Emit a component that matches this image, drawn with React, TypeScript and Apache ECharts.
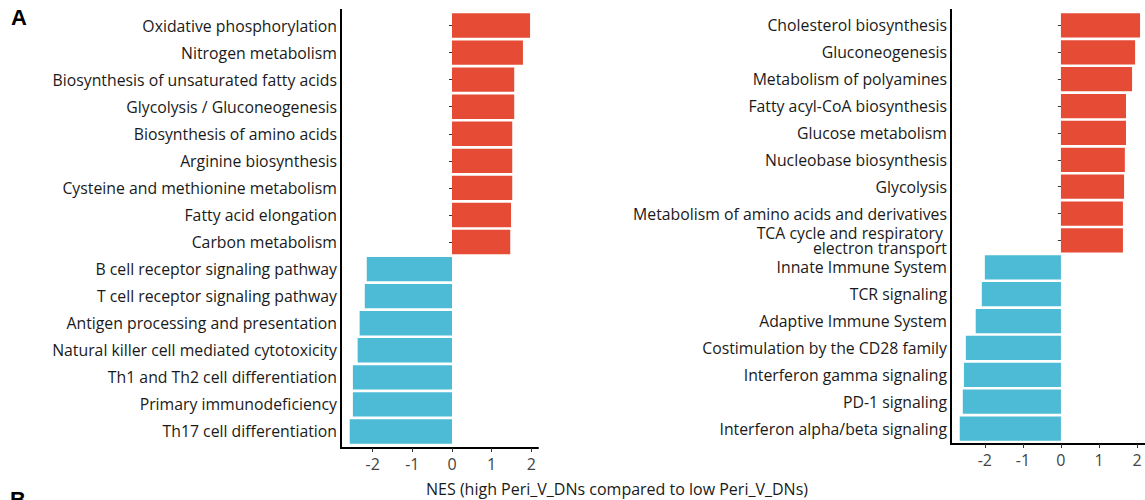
import React, { useEffect, useRef } from "react";
import * as echarts from "echarts";

const leftCategories = [
  "Oxidative phosphorylation",
  "Nitrogen metabolism",
  "Biosynthesis of unsaturated fatty acids",
  "Glycolysis / Gluconeogenesis",
  "Biosynthesis of amino acids",
  "Arginine biosynthesis",
  "Cysteine and methionine metabolism",
  "Fatty acid elongation",
  "Carbon metabolism",
  "B cell receptor signaling pathway",
  "T cell receptor signaling pathway",
  "Antigen processing and presentation",
  "Natural killer cell mediated cytotoxicity",
  "Th1 and Th2 cell differentiation",
  "Primary immunodeficiency",
  "Th17 cell differentiation",
];
const leftNES = [1.97, 1.79, 1.57, 1.57, 1.52, 1.52, 1.52, 1.49, 1.47, -2.15, -2.2, -2.33, -2.38, -2.5, -2.5, -2.58];

const rightCategories = [
  "Cholesterol biosynthesis",
  "Gluconeogenesis",
  "Metabolism of polyamines",
  "Fatty acyl-CoA biosynthesis",
  "Glucose metabolism",
  "Nucleobase biosynthesis",
  "Glycolysis",
  "Metabolism of amino acids and derivatives",
  "TCA cycle and respiratory \nelectron transport",
  "Innate Immune System",
  "TCR signaling",
  "Adaptive Immune System",
  "Costimulation by the CD28 family",
  "Interferon gamma signaling",
  "PD-1 signaling",
  "Interferon alpha/beta signaling",
];
const rightNES = [2.08, 1.95, 1.87, 1.71, 1.71, 1.68, 1.66, 1.63, 1.63, -2.0, -2.08, -2.24, -2.5, -2.55, -2.58, -2.66];

const tickValues = [-2, -1, 0, 1, 2];
const xTitle = "NES (high Peri_V_DNs compared to low Peri_V_DNs)";

const RED = "#E64B35";
const BLUE = "#4DBBD5";
const FONT = "'Open Sans', 'Noto Sans', sans-serif";

export default function App() {
  const ref = useRef<HTMLDivElement>(null);
  useEffect(() => {
    if (!ref.current) return;
    const chart = echarts.init(ref.current, null, { renderer: "svg" });

    const panels = [
      { left: 341, top: 12, width: 197, height: 433, min: -2.8, max: 2.17, cats: leftCategories, vals: leftNES, axisTop: 9, axisBottom: 448 },
      { left: 951, top: 12, width: 194, height: 430, min: -2.89, max: 2.21, cats: rightCategories, vals: rightNES, axisTop: 9, axisBottom: 444 },
    ];

    const grid = panels.map((p) => ({ left: p.left, top: p.top, width: p.width, height: p.height, containLabel: false }));
    const xAxis = panels.map((p, i) => ({
      type: "value",
      gridIndex: i,
      min: p.min,
      max: p.max,
      offset: p.axisBottom - (p.top + p.height),
      splitLine: { show: false },
      axisLine: { show: true, lineStyle: { color: "#000", width: 2 } },
      axisTick: { show: true, length: 4, lineStyle: { color: "#333" }, customValues: tickValues },
      axisLabel: { color: "#444", fontSize: 16, fontFamily: FONT, margin: 8, customValues: tickValues },
    }));
    const yAxis = panels.map((p, i) => ({
      type: "category",
      gridIndex: i,
      data: p.cats,
      inverse: true,
      axisLine: { show: false },
      axisTick: { show: true, length: 3, alignWithLabel: true, lineStyle: { color: "#333" } },
      axisLabel: { color: "#1a1a1a", fontSize: 15.8, fontFamily: FONT, margin: 4, lineHeight: 15, align: "right" },
    }));
    const series = panels.map((p, i) => ({
      type: "bar",
      xAxisIndex: i,
      yAxisIndex: i,
      barCategoryGap: "10%",
      data: p.vals.map((v) => ({ value: v, itemStyle: { color: v > 0 ? RED : BLUE } })),
    }));

    const graphic: any[] = panels.map((p) => ({
      type: "line",
      shape: { x1: p.left, y1: p.axisTop, x2: p.left, y2: p.axisBottom + 1 },
      style: { stroke: "#000", lineWidth: 2 },
    }));
    graphic.push(
      { type: "text", left: 11, top: 6, style: { text: "A", font: "bold 22px 'Liberation Sans', Arial, sans-serif", fill: "#000" } },
      { type: "text", left: 10, top: 488, style: { text: "B", font: "bold 22px 'Liberation Sans', Arial, sans-serif", fill: "#000" } },
      { type: "text", x: 617, y: 489, style: { text: xTitle, font: `16px ${FONT}`, fill: "#1a1a1a", align: "center", verticalAlign: "middle" } }
    );

    chart.setOption({
      animation: false,
      backgroundColor: "#fff",
      grid,
      xAxis,
      yAxis,
      series,
      graphic,
    });
    return () => chart.dispose();
  }, []);
  return <div ref={ref} style={{ position: "fixed", left: 0, top: 0, width: 1145, height: 500 }} />;
}
